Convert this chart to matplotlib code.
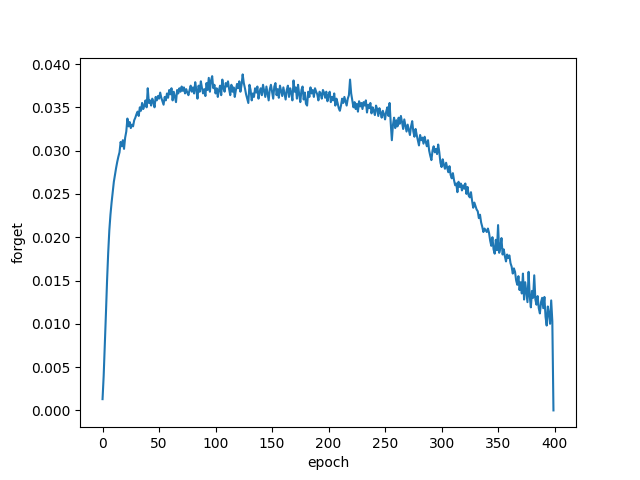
import numpy as np
import matplotlib
matplotlib.use("Agg")
import matplotlib.pyplot as plt

# forget values per epoch (10 per row)
forget = [
    0.0013, 0.0040, 0.0075, 0.0112, 0.0150, 0.0182, 0.0208, 0.0226, 0.0240, 0.0252,
    0.0264, 0.0272, 0.0280, 0.0287, 0.0293, 0.0298, 0.0310, 0.0305, 0.0312, 0.0302,
    0.0315, 0.0322, 0.0337, 0.0328, 0.0333, 0.0326, 0.0330, 0.0328, 0.0335, 0.0338,
    0.0342, 0.0345, 0.0340, 0.0350, 0.0346, 0.0355, 0.0348, 0.0352, 0.0358, 0.0350,
    0.0372, 0.0355, 0.0358, 0.0352, 0.0360, 0.0356, 0.0350, 0.0362, 0.0358, 0.0363,
    0.0360, 0.0367, 0.0361, 0.0357, 0.0353, 0.0362, 0.0358, 0.0366, 0.0361, 0.0370,
    0.0365, 0.0372, 0.0358, 0.0368, 0.0362, 0.0356, 0.0370, 0.0366, 0.0372, 0.0368,
    0.0374, 0.0369, 0.0373, 0.0366, 0.0371, 0.0367, 0.0364, 0.0370, 0.0375, 0.0368,
    0.0373, 0.0366, 0.0379, 0.0370, 0.0360, 0.0375, 0.0368, 0.0380, 0.0372, 0.0366,
    0.0371, 0.0363, 0.0378, 0.0370, 0.0384, 0.0368, 0.0381, 0.0386, 0.0372, 0.0376,
    0.0366, 0.0372, 0.0362, 0.0370, 0.0375, 0.0364, 0.0382, 0.0372, 0.0368, 0.0378,
    0.0374, 0.0380, 0.0371, 0.0364, 0.0376, 0.0368, 0.0373, 0.0362, 0.0370, 0.0377,
    0.0372, 0.0380, 0.0368, 0.0376, 0.0388, 0.0378, 0.0372, 0.0365, 0.0360, 0.0355,
    0.0376, 0.0370, 0.0358, 0.0366, 0.0362, 0.0372, 0.0367, 0.0374, 0.0360, 0.0368,
    0.0372, 0.0364, 0.0376, 0.0369, 0.0362, 0.0374, 0.0366, 0.0358, 0.0371, 0.0376,
    0.0368, 0.0360, 0.0374, 0.0378, 0.0364, 0.0371, 0.0361, 0.0375, 0.0369, 0.0363,
    0.0373, 0.0366, 0.0359, 0.0370, 0.0375, 0.0362, 0.0372, 0.0367, 0.0358, 0.0381,
    0.0368, 0.0373, 0.0360, 0.0376, 0.0365, 0.0356, 0.0370, 0.0374, 0.0359, 0.0367,
    0.0354, 0.0352, 0.0368, 0.0362, 0.0373, 0.0366, 0.0370, 0.0362, 0.0372, 0.0368,
    0.0365, 0.0358, 0.0368, 0.0366, 0.0360, 0.0370, 0.0367, 0.0361, 0.0368, 0.0357,
    0.0364, 0.0368, 0.0356, 0.0362, 0.0358, 0.0366, 0.0352, 0.0360, 0.0355, 0.0349,
    0.0346, 0.0352, 0.0360, 0.0355, 0.0362, 0.0357, 0.0352, 0.0360, 0.0364, 0.0382,
    0.0366, 0.0358, 0.0350, 0.0356, 0.0348, 0.0354, 0.0345, 0.0357, 0.0351, 0.0355,
    0.0348, 0.0356, 0.0352, 0.0358, 0.0344, 0.0353, 0.0349, 0.0355, 0.0343, 0.0350,
    0.0346, 0.0341, 0.0352, 0.0348, 0.0340, 0.0349, 0.0344, 0.0338, 0.0346, 0.0342,
    0.0336, 0.0345, 0.0350, 0.0340, 0.0355, 0.0332, 0.0312, 0.0330, 0.0338, 0.0326,
    0.0335, 0.0328, 0.0338, 0.0331, 0.0340, 0.0333, 0.0325, 0.0336, 0.0329, 0.0322,
    0.0330, 0.0324, 0.0318, 0.0328, 0.0334, 0.0322, 0.0316, 0.0325, 0.0318, 0.0312,
    0.0306, 0.0318, 0.0312, 0.0315, 0.0308, 0.0316, 0.0310, 0.0305, 0.0312, 0.0300,
    0.0294, 0.0289, 0.0300, 0.0305, 0.0298, 0.0302, 0.0296, 0.0307, 0.0298, 0.0286,
    0.0281, 0.0290, 0.0284, 0.0279, 0.0286, 0.0280, 0.0275, 0.0282, 0.0272, 0.0268,
    0.0274, 0.0266, 0.0260, 0.0262, 0.0252, 0.0264, 0.0258, 0.0262, 0.0254, 0.0260,
    0.0256, 0.0262, 0.0250, 0.0258, 0.0248, 0.0246, 0.0252, 0.0242, 0.0234, 0.0240,
    0.0236, 0.0232, 0.0230, 0.0222, 0.0226, 0.0217, 0.0212, 0.0206, 0.0210, 0.0208,
    0.0206, 0.0210, 0.0205, 0.0196, 0.0190, 0.0200, 0.0186, 0.0181, 0.0197, 0.0185,
    0.0214, 0.0182, 0.0188, 0.0199, 0.0180, 0.0186, 0.0178, 0.0172, 0.0180, 0.0176,
    0.0179, 0.0170, 0.0166, 0.0158, 0.0164, 0.0160, 0.0150, 0.0145, 0.0155, 0.0139,
    0.0148, 0.0135, 0.0158, 0.0128, 0.0148, 0.0136, 0.0125, 0.0160, 0.0132, 0.0119,
    0.0138, 0.0130, 0.0156, 0.0128, 0.0122, 0.0132, 0.0118, 0.0112, 0.0125, 0.0130,
    0.0118, 0.0131, 0.0108, 0.0098, 0.0120, 0.0112, 0.0100, 0.0127, 0.0103, 0.0000,
]
epoch = np.arange(len(forget))

plt.figure(figsize=(6.4, 4.8), dpi=100)
plt.plot(epoch, forget)
plt.xlabel("epoch")
plt.ylabel("forget")
plt.savefig("out.png")
